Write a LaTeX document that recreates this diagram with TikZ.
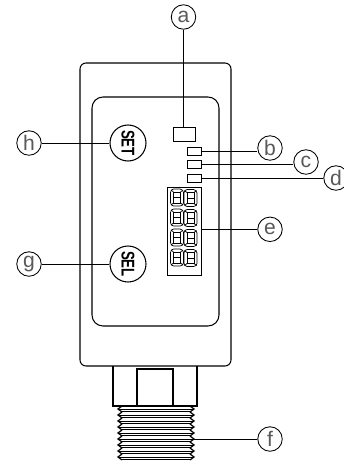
\documentclass[tikz,border=0pt]{standalone}
\usepackage{fontspec}
\setmainfont{Liberation Sans}
\usetikzlibrary{calc}

\tikzset{
  callout/.style={draw,circle,fill=white,line width=0.5pt,minimum size=24.5*0.02cm,inner sep=0pt,font=\fontsize{12}{12}\selectfont,text=black!65},
  keycap/.style={draw,circle,line width=0.6pt,minimum size=36*0.02cm,inner sep=0pt,rotate=-90,font=\fontsize{10.5}{10.5}\selectfont\bfseries},
  led/.style={draw,rectangle,line width=0.55pt,minimum width=14*0.02cm,minimum height=8*0.02cm,inner sep=0pt},
  leader/.style={line width=0.5pt},
  outline/.style={line width=0.6pt},
  segment/.pic={
    \draw[line width=0.4pt,rounded corners=0.6pt] (-4.5,-8.5) -- (4,-8.5) -- (6.5,-6) -- (6.5,6.5) -- (4,8.5) -- (-4.5,8.5) -- (-6.5,6) -- (-6.5,-6) -- cycle;
    \draw[line width=0.4pt] (-3.5,-5.5) rectangle (3.5,5.5);
    \draw[line width=0.4pt] (-3.5,0) -- (3.5,0);
    \draw[line width=0.4pt] (-3.5,-5.5) -- (-6,-7.5) (3.5,-5.5) -- (6,-7.5) (-3.5,5.5) -- (-6,7.5) (3.5,5.5) -- (6,7.5);
  }
}

\begin{document}
\begin{tikzpicture}[x=0.02cm,y=-0.02cm]
\useasboundingbox (0,0) rectangle (344,463);

\draw[outline,rounded corners=6*0.02cm] (80,63) rectangle (231,366);
\draw[outline,rounded corners=11*0.02cm] (92,97) rectangle (219,326);

% buttons
\node[keycap] (set) at (128,143) {\scalebox{0.72}[1]{SET}};
\node[keycap] (sel) at (128,264) {\scalebox{0.72}[1]{SEL}};

% window and leds
\node[draw,rectangle,line width=0.55pt,minimum width=22*0.02cm,minimum height=14*0.02cm,inner sep=0pt] (window) at (184,134) {};
\node[led] (led1) at (194,151) {};
\node[led] (led2) at (194,164.5) {};
\node[led] (led3) at (194,178) {};
\node[draw,rectangle,line width=0.55pt,minimum width=34*0.02cm,minimum height=87.5*0.02cm,inner sep=0pt] (display) at (184,231.5) {};

\foreach \row in {0,1,2,3} {
  \pic at (177,{197.5+20*\row}) {segment};
  \pic at (190.5,{198+20*\row}) {segment};
}

% fitting
\draw[outline] (113,366) -- (113,406) -- (197,406) -- (197,366);
\draw[outline] (137,406) -- (137,369) -- (173,369) -- (173,406);
\coordinate (thread) at (193,439);
\foreach \i in {0,1,...,8} {
  \draw[line width=0.7pt] (122,{406+6*\i}) -- (118,{409+6*\i}) -- (122,{412+6*\i});
  \draw[line width=0.7pt] (190,{406+6*\i}) -- (194,{409+6*\i}) -- (190,{412+6*\i});
  \draw[line width=0.5pt] (119,{409+6*\i}) -- (193,{409+6*\i});
  \draw[line width=0.5pt] (122,{411.7+6*\i}) -- (190,{411.7+6*\i});
}

% callouts
\node[callout] (a) at (183.5,17) {a};
\node[callout] (b) at (270,148) {b};
\node[callout] (c) at (306,162) {c};
\node[callout] (d) at (336,178) {d};
\node[callout] (e) at (270,229.3) {e};
\node[callout] (f) at (270,439) {f};
\node[callout] (g) at (29,264) {g};
\node[callout] (h) at (29,143) {h};

\draw[leader] (a) -- (window.north -| a);
\draw[leader] (led1.east) -- (led1.east -| b.west);
\draw[leader] (led2.east) -- (led2.east -| c.west);
\draw[leader] (led3.east) -- (led3.east -| d.west);
\draw[leader] (e.west) -- (e.west -| display.east);
\draw[leader] (thread) -- (f.west);
\draw[leader] (g) -- (sel);
\draw[leader] (h) -- (set);
\end{tikzpicture}
\end{document}
